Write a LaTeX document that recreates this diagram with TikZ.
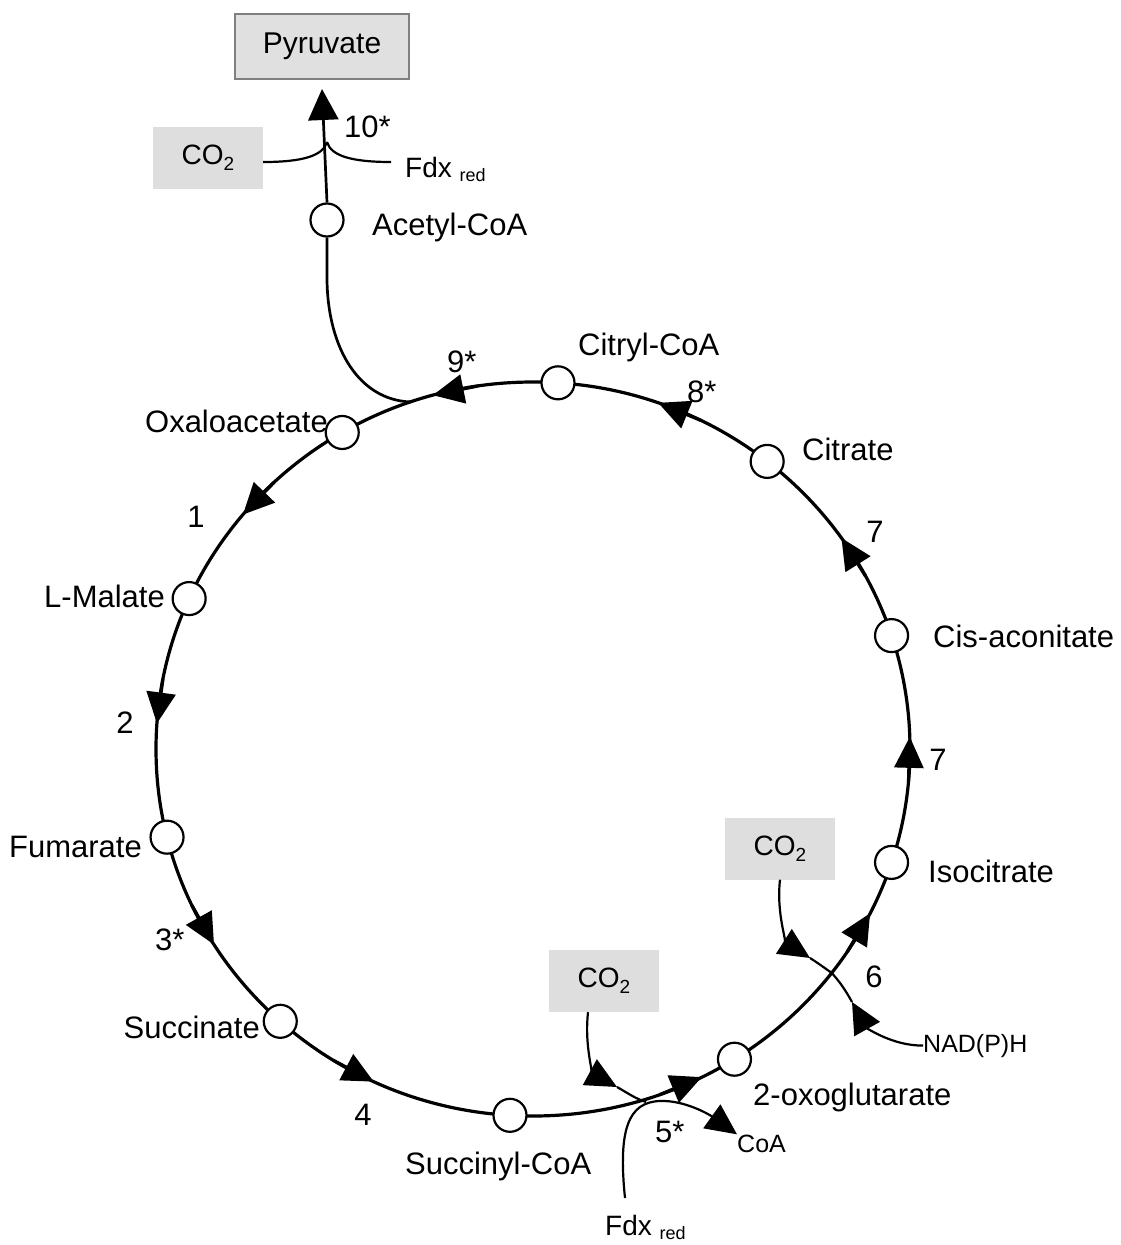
\documentclass[tikz,border=0pt]{standalone}
\usepackage{fontspec}
\setmainfont{Liberation Sans}
\usetikzlibrary{arrows.meta,calc}
\newcommand\ep[1]{({533+377*cos(#1)},{749-367*sin(#1)})}
\newcommand\cotwo{CO\raisebox{-6pt}{\fontsize{19}{19}\selectfont 2}}
\newcommand\fdxred{Fdx \raisebox{-4pt}{\fontsize{18}{18}\selectfont red}}
\begin{document}
\begin{tikzpicture}[x=1pt,y=-1pt,
  met/.style={circle,draw,fill=white,line width=2.2pt,minimum size=33pt,inner sep=0pt},
  lbl/.style={inner sep=0pt,font=\fontsize{31}{31}\selectfont},
  small/.style={inner sep=0pt,font=\fontsize{25}{25}\selectfont},
  fdx/.style={inner sep=0pt,font=\fontsize{28}{28}\selectfont},
  cobox/.style={fill=black!13,minimum width=110pt,minimum height=62pt,inner sep=0pt,font=\fontsize{28}{28}\selectfont},
  main/.style={line width=3.2pt},
  br/.style={line width=2.2pt},
  bigtip/.style={-{Triangle[length=31pt,width=29pt]}},
]
\fill[white] (0,0) rectangle (1120,1245);
\useasboundingbox (0,0) rectangle (1120,1245);

% main cycle
\draw[main] (533,749) ellipse [x radius=377, y radius=367];
\foreach \a in {140.3,176,212.2,245,296.6,333.4,361.9,395.1,430.6,465.4}
  \draw[main,bigtip] \ep{\a-7} -- \ep{\a};

% acetyl-CoA branch
\node[met] (acoa) at (327,220) {};
\coordinate (j9) at (410.3,401.9);
\draw[line width=2.7pt] (acoa.south) -- (327,280) .. controls (328,350) and (360,400) .. (j9);

% metabolite circles
\node[met] (oxa) at \ep{120.4} {};
\node[met] (mal) at \ep{155.8} {};
\node[met] (fum) at \ep{193.9} {};
\node[met] (suc) at \ep{227.9} {};
\node[met] (scoa) at \ep{266.5} {};
\node[met] (oxg) at \ep{302.3} {};
\node[met] (iso) at \ep{342} {};
\node[met] (cis) at \ep{18} {};
\node[met] (cit) at \ep{51.6} {};
\node[met] (ccoa) at \ep{86.2} {};

% labels
\node[lbl,anchor=base west] (lacoa) at (372,235) {Acetyl-CoA};
\node[lbl,anchor=base west] (lccoa) at (578,355) {Citryl-CoA};
\node[lbl,anchor=base west] (lcit) at (802,460) {Citrate};
\node[lbl,anchor=base west] (lcis) at (933,647) {Cis-aconitate};
\node[lbl,anchor=base west] (liso) at (928,882) {Isocitrate};
\node[lbl,anchor=base west] (loxg) at (753,1105) {2-oxoglutarate};
\node[lbl,anchor=base west] (lscoa) at (405,1174) {Succinyl-CoA};
\node[lbl,anchor=base east] (lsuc) at (260,1038) {Succinate};
\node[lbl,anchor=base east] (lfum) at (142,857) {Fumarate};
\node[lbl,anchor=base east] (lmal) at (165,607) {L-Malate};
\node[lbl,anchor=base east] (loxa) at (328,432) {Oxaloacetate};

% step numbers
\node[lbl,anchor=base] (s1) at (196,527) {1};
\node[lbl,anchor=base] (s2) at (125,733) {2};
\node[lbl,anchor=base west] (s3) at (155,950) {3*};
\node[lbl,anchor=base] (s4) at (363,1125) {4};
\node[lbl,anchor=base west] (s5) at (655,1142) {5*};
\node[lbl,anchor=base] (s6) at (874,987) {6};
\node[lbl,anchor=base] (s7a) at (938,770) {7};
\node[lbl,anchor=base] (s7b) at (875,542) {7};
\node[lbl,anchor=base west] (s8) at (687,402) {8*};
\node[lbl,anchor=base west] (s9) at (447,372) {9*};
\node[lbl,anchor=base west] (s10) at (344,137) {10*};

% pyruvate
\node[draw=black!50,fill=black!12,line width=2pt,minimum width=174pt,minimum height=65pt,inner sep=0pt,font=\fontsize{30}{30}\selectfont] (pyr) at (322,46.5) {Pyruvate};
\draw[line width=2.7pt,-{Triangle[length=31pt,width=30pt]}] (acoa.north) -- ($(pyr.south)+(0,9)$);
\coordinate (J) at (327,142);
\node[cobox] (co2a) at (208,158) {\cotwo};
\draw[br] ($(co2a.east)+(0,4)$) .. controls (302,162) and (323,156) .. (J);
\node[fdx,anchor=base west] (fdxa) at (405,177) {\fdxred};
\coordinate (fe) at (391,162);
\draw[br] (fe) .. controls (352,162) and (331,156) .. (J);

% step 6 side branches
\node[cobox] (co2b) at (780,848.5) {\cotwo};
\coordinate (x6) at (831.7,972.9);
\coordinate (t6a) at (810,958);
\draw[br,bigtip] (co2b.south) .. controls (776,915) and (788,944) .. (t6a);
\draw[br] (t6a) .. controls (818,963) and (826,969) .. (x6);
\node[small,anchor=base west] (nad) at (923,1052) {NAD(P)H};
\coordinate (t6b) at (852,1002);
\draw[br,bigtip] (nad.west) .. controls (892,1046) and (866,1027) .. (t6b);
\draw[br] (t6b) .. controls (846,991) and (840,982) .. (x6);

% step 5 side branches
\node[cobox] (co2c) at (604,981) {\cotwo};
\node[fdx,anchor=base west] (fdxb) at (605,1235) {\fdxred};
\coordinate (fb) at (625,1198);
\node[small,anchor=base west] (coa) at (737,1152) {CoA};
\coordinate (x5) at (646,1102);
\draw[br,bigtip] (fb) .. controls (618,1130) and (628,1102) .. (660,1101) .. controls (685,1100) and (710,1115) .. (coa.north west);
\coordinate (t5) at (617,1087);
\draw[br,bigtip] ($(co2c.south)+(-16,0)$) .. controls (584,1050) and (595,1075) .. (t5);
\draw[br] (t5) .. controls (626,1092) and (636,1099) .. (x5);
\end{tikzpicture}
\end{document}
